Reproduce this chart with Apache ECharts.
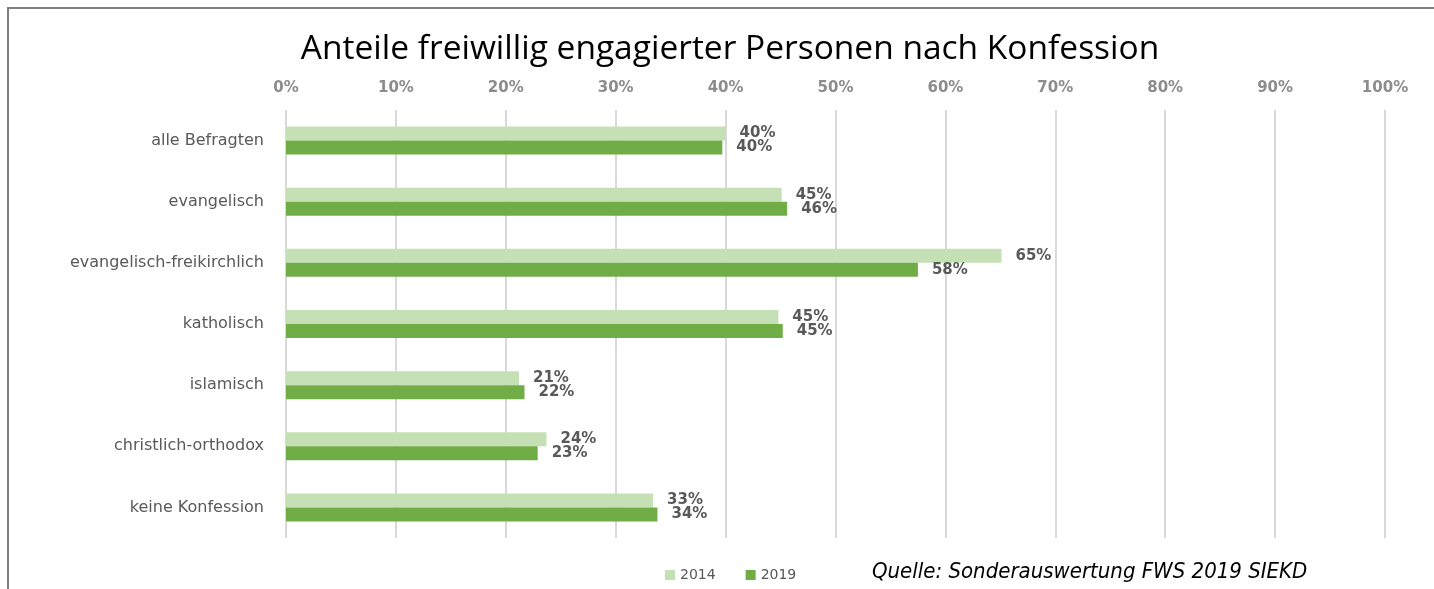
<!DOCTYPE html>
<html>
<head>
<meta charset="utf-8">
<script src="https://cdn.jsdelivr.net/npm/echarts@6/dist/echarts.min.js"></script>
<style>
  html, body { margin: 0; padding: 0; background: #fff; }
  #chart { width: 1434px; height: 589px; }
</style>
</head>
<body>
<div id="chart"></div>
<script>
// Kategorien (von oben nach unten)
const categories = ['alle Befragten', 'evangelisch', 'evangelisch-freikirchlich', 'katholisch', 'islamisch', 'christlich-orthodox', 'keine Konfession'];
// Anteile in Prozent
const values2014 = [40.0, 45.1, 65.1, 44.8, 21.2, 23.7, 33.4];
const values2019 = [39.7, 45.6, 57.5, 45.2, 21.7, 22.9, 33.8];
const seriesNames = ['2014', '2019'];

const chart = echarts.init(document.getElementById('chart'));

// gemeinsame Beschriftung der Balken
const barLabel = {
  show: true,
  position: 'right',
  distance: 14,
  color: '#595959',
  fontSize: 15,
  fontWeight: 'bold',
  fontFamily: 'DejaVu Sans',
  formatter: p => Math.round(p.value) + '%'
};

chart.setOption({
  animation: false,
  title: {
    text: 'Anteile freiwillig engagierter Personen nach Konfession',
    left: 725,
    textAlign: 'center',
    top: 27,
    textStyle: { fontFamily: 'Open Sans', fontWeight: 'normal', fontSize: 33.5, color: '#000' }
  },
  legend: {
    data: seriesNames,
    left: 660,
    top: 563,
    itemWidth: 10,
    itemHeight: 10,
    itemGap: 30,
    icon: 'rect',
    textStyle: { color: '#595959', fontSize: 14, fontFamily: 'DejaVu Sans' }
  },
  graphic: [
    {
      // Rahmen
      type: 'rect',
      shape: { x: 8, y: 8, width: 1440, height: 600 },
      style: { fill: 'none', stroke: '#7f7f7f', lineWidth: 2 }
    },
    {
      type: 'text',
      left: 872,
      top: 561,
      style: {
        text: 'Quelle: Sonderauswertung FWS 2019 SIEKD',
        font: 'italic 22px "Liberation Sans Narrow", "DejaVu Sans Condensed", sans-serif',
        fill: '#000'
      }
    }
  ],
  grid: { left: 286, right: 49, top: 110, bottom: 51 },
  xAxis: {
    type: 'value',
    position: 'top',
    min: 0,
    max: 100,
    interval: 10,
    axisLine: { show: false },
    axisTick: { show: false },
    axisLabel: {
      formatter: '{value}%',
      color: '#8c8c8c',
      fontSize: 15,
      fontWeight: 'bold',
      fontFamily: 'DejaVu Sans',
      margin: 14
    },
    splitLine: { lineStyle: { color: '#d9d9d9', width: 2 } }
  },
  yAxis: {
    type: 'category',
    data: categories,
    inverse: true,
    axisLine: { show: false },
    axisTick: { show: false },
    axisLabel: { color: '#595959', fontSize: 16, fontFamily: 'DejaVu Sans', margin: 22 }
  },
  series: [
    {
      name: '2014',
      type: 'bar',
      data: values2014,
      barWidth: 14,
      barGap: '0%',
      itemStyle: { color: '#c5e0b4' },
      label: barLabel
    },
    {
      name: '2019',
      type: 'bar',
      data: values2019,
      barWidth: 14,
      itemStyle: { color: '#70ad47' },
      label: barLabel
    }
  ]
});
</script>
</body>
</html>
